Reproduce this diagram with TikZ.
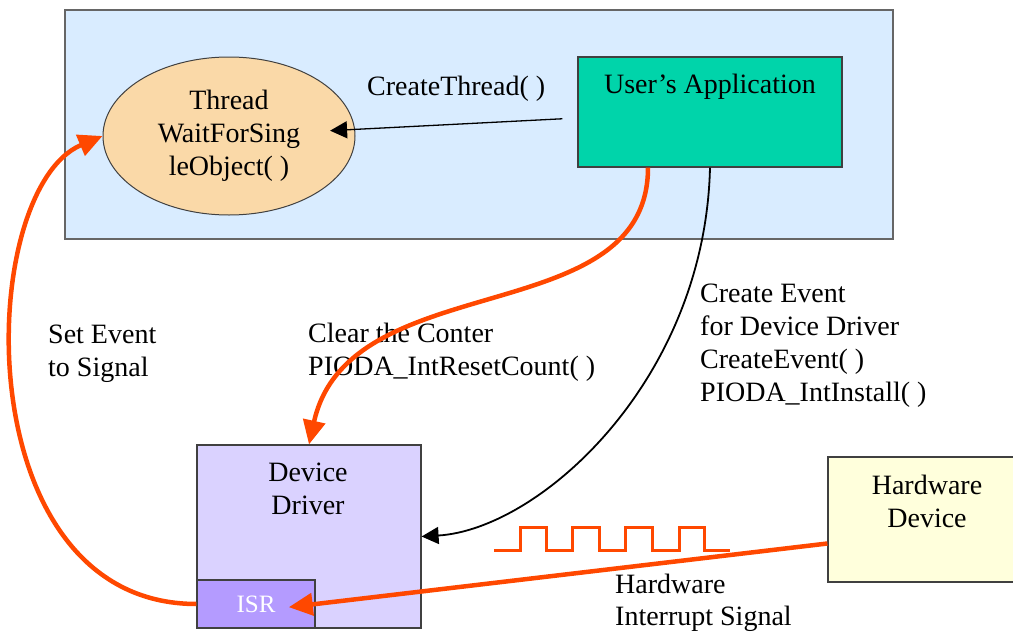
\documentclass[tikz,border=0pt]{standalone}
\usepackage{fontspec}
\setmainfont{Liberation Serif}
\usetikzlibrary{arrows.meta,shapes.geometric}

\definecolor{hostblue}{RGB}{217,236,255}
\definecolor{threadfill}{RGB}{250,217,168}
\definecolor{appgreen}{RGB}{0,212,170}
\definecolor{driverfill}{RGB}{218,210,255}
\definecolor{isrfill}{RGB}{180,155,255}
\definecolor{hwfill}{RGB}{255,255,220}
\definecolor{sigorange}{RGB}{255,72,0}

\begin{document}
\begin{tikzpicture}[x=1pt,y=-1pt,>={Triangle[length=17pt,width=17pt]},
  every node/.style={font=\fontsize{28}{33}\selectfont},
  box/.style={draw=black!75,line width=1.2pt,inner sep=0pt},
  note/.style={anchor=base west,align=left,inner sep=0pt},
  call/.style={->,line width=1.3pt},
  hot/.style={->,draw=sigorange,line width=4.5pt,>={Triangle[length=24pt,width=22pt]}}]
  \useasboundingbox (0,0) rectangle (1013,632);

  % host side
  \node[box,draw=black!60,line width=1.5pt,fill=hostblue,minimum width=828pt,minimum height=229pt] (host) at (479,124.5) {};
  \node[ellipse,draw=black!75,line width=1pt,fill=threadfill,minimum width=252pt,minimum height=158pt,align=center,inner sep=0pt] (thread) at (229,136) {Thread\\WaitForSing\\leObject( )};
  \node[box,fill=appgreen,minimum width=264pt,minimum height=110pt] (app) at (710,112) {};
  \node[anchor=base,inner sep=0pt] (apptitle) at (710,93) {User’s Application};

  % driver side (base anchor sits on the last line)
  \node[box,fill=driverfill,minimum width=224pt,minimum height=183pt] (driver) at (309,536.5) {};
  \node[anchor=base,align=center,inner sep=0pt] (drivertitle) at (308,514) {Device\\Driver};
  \node[box,fill=isrfill,minimum width=118pt,minimum height=48pt,text=white,font=\fontsize{25}{30}\selectfont] (isr) at (256,604) {ISR};
  \node[box,fill=hwfill,minimum width=198pt,minimum height=125pt] (hw) at (927,519.5) {};
  \node[anchor=base,align=center,inner sep=0pt] (hwtitle) at (927,527) {Hardware\\Device};

  % interrupt pulses
  \draw[sigorange,line width=3pt] (494,550) -| (520,527) -| (546,550) -| (572,527) -| (599,550)
    -| (625,527) -| (652,550) -| (679,527) -| (704,550) -- (730,550);

  % labels
  \node[note] (lcreate) at (367,95) {CreateThread( )};
  \node[note] (lclear) at (308,375) {Clear the Conter\\PIODA\_IntResetCount( )};
  \node[note] (levent) at (700,401) {Create Event\\for Device Driver\\CreateEvent( )\\PIODA\_IntInstall( )};
  \node[note] (lset) at (48,376) {Set Event\\to Signal};
  \node[note,font=\fontsize{28}{32}\selectfont] (lirq) at (615,625) {Hardware\\Interrupt Signal};

  % connectors
  \draw[call,shorten <=15pt,shorten >=-25pt] ([yshift=-6pt]app.west) -- (thread.3);
  \draw[call,line width=1.8pt] (app.south) .. controls +(-5,213) and +(118,-7) .. (driver.east);
  \draw[hot] ([xshift=-62pt]app.south) .. controls +(0,165) and +(40,-180) .. (driver.north);
  \draw[hot] (isr.west) .. controls +(-232,0) and +(-128,54) .. (thread.west);
  \draw[hot,shorten >=-27pt] ([yshift=-24pt]hw.west) -- (isr.east);
\end{tikzpicture}
\end{document}
